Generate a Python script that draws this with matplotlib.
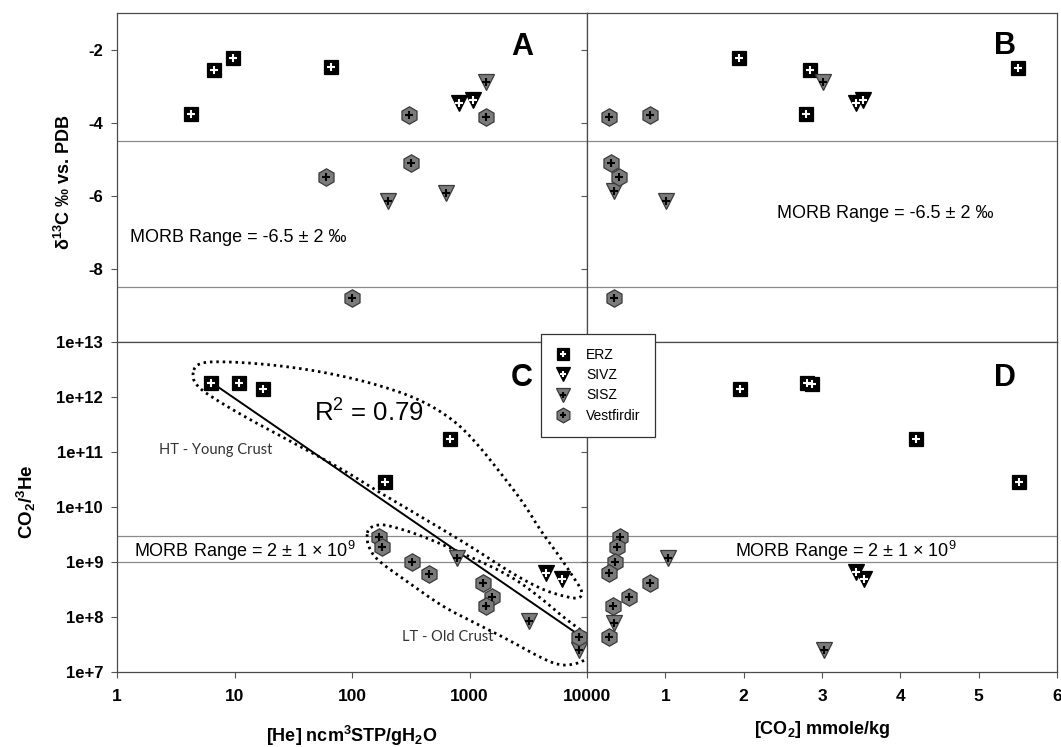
import numpy as np
import matplotlib
matplotlib.use('Agg')
import matplotlib.pyplot as plt
from matplotlib.lines import Line2D

plt.rcParams['font.family'] = ['Liberation Sans', 'DejaVu Sans']
plt.rcParams['mathtext.fontset'] = 'custom'
plt.rcParams['mathtext.rm'] = 'Liberation Sans'
plt.rcParams['mathtext.it'] = 'Liberation Sans:italic'
plt.rcParams['mathtext.bf'] = 'Liberation Sans:bold'

# ---------------- data ----------------
groups = ['ERZ', 'SIVZ', 'SISZ', 'Vestfirdir']

# Panel A: [He] vs d13C
A_he = {'ERZ': [6.2, 10.7, 17.1, 188],
        'SIVZ': [4350, 6080],
        'SISZ': [8430, 770, 3160],
        'Vestfirdir': [1280, 8430, 1350, 169, 316]}
A_d13c = {'ERZ': [-3.76, -2.55, -2.22, -2.49],
          'SIVZ': [-3.47, -3.39],
          'SISZ': [-2.89, -6.14, -5.92],
          'Vestfirdir': [-3.80, -3.85, -5.11, -5.50, -8.81]}

# Panel B: [CO2] vs d13C
B_co2 = {'ERZ': [1.94, 2.85, 2.79, 5.50],
         'SIVZ': [3.44, 3.52],
         'SISZ': [3.01, 0.34, 1.01],
         'Vestfirdir': [0.28, 0.80, 0.31, 0.41, 0.34]}
B_d13c = {'ERZ': [-2.23, -2.55, -3.76, -2.50],
          'SIVZ': [-3.47, -3.39],
          'SISZ': [-2.89, -5.88, -6.14],
          'Vestfirdir': [-3.85, -3.80, -5.11, -5.50, -8.81]}

# Panel C: [He] vs CO2/3He
C_he = {'ERZ': [6.3, 10.9, 17.6, 682, 191],
        'SIVZ': [4450, 6170],
        'SISZ': [778, 3230, 8600],
        'Vestfirdir': [171, 179, 322, 455, 1312, 1545, 1373, 8600]}
C_ratio = {'ERZ': [1.83e12, 1.76e12, 1.38e12, 1.69e11, 2.8e10],
           'SIVZ': [6.4e8, 5.0e8],
           'SISZ': [1.19e9, 8.3e7, 2.5e7],
           'Vestfirdir': [2.88e9, 1.89e9, 1.0e9, 6.0e8, 4.2e8, 2.3e8, 1.6e8, 4.3e7]}

# Panel D: [CO2] vs CO2/3He
D_co2 = {'ERZ': [1.95, 2.81, 2.87, 4.20, 5.51],
         'SIVZ': [3.44, 3.53],
         'SISZ': [1.03, 0.35, 3.02],
         'Vestfirdir': [0.42, 0.38, 0.355, 0.28, 0.81, 0.53, 0.33, 0.285]}
D_ratio = {'ERZ': [1.37e12, 1.83e12, 1.74e12, 1.69e11, 2.8e10],
           'SIVZ': [6.5e8, 5.0e8],
           'SISZ': [1.19e9, 7.8e7, 2.5e7],
           'Vestfirdir': [2.82e9, 1.86e9, 1.0e9, 6.2e8, 4.2e8, 2.3e8, 1.6e8, 4.3e7]}

# MORB ranges
morb_d13c = [-4.5, -8.5]
morb_ratio = [1e9, 3e9]

# regression (log10 ratio = intercept + slope * log10 He)
fit_slope = -1.468
fit_intercept = 13.445
fit_he_range = [7.05, 8700]

# envelopes (log10 He, log10 CO2/3He)
HT_env_loghe = [0.636, 0.678, 0.934, 1.359, 1.785, 2.210, 2.579, 2.862, 3.061, 3.288, 3.472,
                3.600, 3.770, 3.883, 3.969, 3.932, 3.770, 3.600, 3.345, 3.061, 2.636, 2.266,
                1.926, 1.500, 1.075, 0.791, 0.678]
HT_env_logratio = [12.384, 12.629, 12.647, 12.580, 12.446, 12.232, 11.958, 11.592, 11.166, 10.556,
                   10.038, 9.581, 9.093, 8.728, 8.448, 8.320, 8.393, 8.516, 8.814, 9.216, 9.764,
                   10.221, 10.678, 11.166, 11.653, 12.018, 12.201]
LT_env_loghe = [2.125, 2.139, 2.238, 2.351, 2.579, 2.919, 3.345, 3.600, 3.798, 3.973, 4.054,
                4.083, 4.026, 3.911, 3.770, 3.600, 3.345, 3.061, 2.777, 2.494, 2.210, 2.139]
LT_env_logratio = [9.459, 9.618, 9.691, 9.642, 9.490, 9.179, 8.759, 8.362, 7.996, 7.722, 7.601,
                   7.448, 7.265, 7.144, 7.113, 7.265, 7.570, 7.876, 8.179, 8.607, 9.033, 9.276]

left_he_ticks = [1, 10, 100, 1000, 10000]
left_he_labels = ['1', '10', '100', '1000', '10000']
ratio_ticks = [1e7, 1e8, 1e9, 1e10, 1e11, 1e12, 1e13]
ratio_labels = ['1e+7', '1e+8', '1e+9', '1e+10', '1e+11', '1e+12', '1e+13']
d13c_ticks = [-2, -4, -6, -8]
d13c_labels = ['-2', '-4', '-6', '-8']
co2_ticks = [1, 2, 3, 4, 5, 6]
co2_labels = ['1', '2', '3', '4', '5', '6']

# ---------------- styles ----------------
GRAY = '#7b7b7b'
EDGE = '#3a3a3a'
styles = {
    'ERZ': dict(marker='s', ms=10.3, mfc='black', mec='black', plus='white'),
    'SIVZ': dict(marker='v', ms=11.5, mfc='black', mec='black', plus='white'),
    'SISZ': dict(marker='v', ms=11.5, mfc=GRAY, mec=EDGE, plus='black'),
    'Vestfirdir': dict(marker='h', ms=12.5, mfc=GRAY, mec=EDGE, plus='black'),
}

W, H = 1061, 747
fig = plt.figure(figsize=(W / 100, H / 100), dpi=100)


def add_ax(x0, y0, x1, y1):
    return fig.add_axes([x0 / W, 1 - y1 / H, (x1 - x0) / W, (y1 - y0) / H])


axA = add_ax(117, 13, 587, 342)
axB = add_ax(587, 13, 1057, 342)
axC = add_ax(117, 342, 587, 672)
axD = add_ax(587, 342, 1057, 672)

SPINE = '#4a4a4a'
TICKC = '#555555'
for ax in (axA, axB, axC, axD):
    for s in ax.spines.values():
        s.set_color(SPINE)
        s.set_linewidth(0.9)
    ax.tick_params(which='both', direction='out', length=4, width=0.8, color=TICKC,
                   top=False, right=False)


def scatter(ax, x, y, name):
    st = styles[name]
    ax.plot(x, y, ls='none', marker=st['marker'], ms=st['ms'], mfc=st['mfc'], mec=st['mec'],
            mew=0.9, zorder=3, clip_on=False)
    ax.plot(x, y, ls='none', marker='+', ms=5.5, mew=1.5, color=st['plus'], zorder=4, clip_on=False)


# ---- Panel A
axA.set_xscale('log')
axA.set_xlim(1, 1e5)
axA.set_ylim(-10, -1)
axA.set_xticks([10, 100, 1000, 10000])
axA.xaxis.set_minor_locator(matplotlib.ticker.NullLocator())
axA.set_xticklabels([])
axA.set_yticks(d13c_ticks)
axA.set_yticklabels(d13c_labels, fontsize=12, fontweight='bold')
axA.tick_params(axis='y', pad=6)
for v in morb_d13c:
    axA.axhline(v, color='#8a8a8a', lw=0.9, zorder=1)
for g in groups:
    scatter(axA, A_he[g], A_d13c[g], g)

# ---- Panel B
axB.set_xlim(0, 6)
axB.set_ylim(-10, -1)
axB.set_xticks([1, 2, 3, 4, 5])
axB.set_xticklabels([])
axB.set_yticks(d13c_ticks)
axB.set_yticklabels([])
for v in morb_d13c:
    axB.axhline(v, color='#8a8a8a', lw=0.9, zorder=1)
for g in groups:
    scatter(axB, B_co2[g], B_d13c[g], g)

# ---- Panel C
axC.set_xscale('log')
axC.set_yscale('log')
axC.set_xlim(1, 1e4)
axC.set_ylim(1e7, 1e13)
axC.set_xticks(left_he_ticks)
axC.set_xticklabels(left_he_labels, fontsize=12.5, fontweight='bold')
axC.set_yticks(ratio_ticks)
axC.set_yticklabels(ratio_labels, fontsize=12, fontweight='bold')
axC.xaxis.set_minor_locator(matplotlib.ticker.NullLocator())
axC.yaxis.set_minor_locator(matplotlib.ticker.NullLocator())
axC.tick_params(axis='x', pad=8)
axC.tick_params(axis='y', pad=6)
for v in morb_ratio:
    axC.axhline(v, color='#8a8a8a', lw=0.9, zorder=1)

he_fit = np.logspace(np.log10(fit_he_range[0]), np.log10(fit_he_range[1]), 60)
ratio_fit = 10 ** (fit_intercept + fit_slope * np.log10(he_fit))
axC.plot(he_fit, ratio_fit, color='black', lw=1.4, zorder=2)


def chaikin(lx, ly, n=3):
    pts = np.column_stack([lx, ly]).astype(float)
    for _ in range(n):
        q = np.roll(pts, -1, axis=0)
        a = 0.75 * pts + 0.25 * q
        b = 0.25 * pts + 0.75 * q
        new = np.empty((2 * len(pts), 2))
        new[0::2] = a
        new[1::2] = b
        pts = new
    pts = np.vstack([pts, pts[:1]])
    return 10 ** pts[:, 0], 10 ** pts[:, 1]


for lx, ly in ((HT_env_loghe, HT_env_logratio), (LT_env_loghe, LT_env_logratio)):
    ex, ey = chaikin(lx, ly)
    axC.plot(ex, ey, color='black', lw=2.0, ls=(0, (0.9, 1.4)), zorder=2, clip_on=False)

for g in groups:
    scatter(axC, C_he[g], C_ratio[g], g)

# ---- Panel D
axD.set_yscale('log')
axD.set_xlim(0, 6)
axD.set_ylim(1e7, 1e13)
axD.set_xticks(co2_ticks)
axD.set_xticklabels(co2_labels, fontsize=12.5, fontweight='bold')
axD.tick_params(axis='x', pad=8)
axD.set_yticks(ratio_ticks)
axD.set_yticklabels([])
axD.yaxis.set_minor_locator(matplotlib.ticker.NullLocator())
for v in morb_ratio:
    axD.axhline(v, color='#8a8a8a', lw=0.9, zorder=1)
for g in groups:
    scatter(axD, D_co2[g], D_ratio[g], g)

# ---- panel letters
for ax, letter, (x, y) in ((axA, 'A', (0.862, 0.897)), (axB, 'B', (0.889, 0.90)),
                           (axC, 'C', (0.861, 0.891)), (axD, 'D', (0.889, 0.891))):
    ax.text(x, y, letter, transform=ax.transAxes, ha='center', va='center',
            fontsize=22, fontweight='bold', zorder=5)

# ---- annotations
axA.text(0.028, 0.304, 'MORB Range = -6.5 ± 2 ‰', transform=axA.transAxes,
         fontsize=13, ha='left', va='baseline')
axB.text(0.404, 0.377, 'MORB Range = -6.5 ± 2 ‰', transform=axB.transAxes,
         fontsize=13, ha='left', va='baseline')
axC.text(0.036, 0.3485, r'MORB Range = 2 ± 1 × 10$^{9}$', transform=axC.transAxes,
         fontsize=13, ha='left', va='baseline')
axD.text(0.315, 0.3485, r'MORB Range = 2 ± 1 × 10$^{9}$', transform=axD.transAxes,
         fontsize=13, ha='left', va='baseline')
axC.text(0.419, 0.758, r'R$^{2}$ = 0.79', transform=axC.transAxes,
         fontsize=18.5, ha='left', va='baseline')
axC.text(0.089, 0.661, 'HT - Young Crust', transform=axC.transAxes, family=['Lato', 'DejaVu Sans'],
         fontsize=10.5, color='#333333', ha='left', va='baseline')
axC.text(0.606, 0.094, 'LT - Old Crust', transform=axC.transAxes, family=['Lato', 'DejaVu Sans'],
         fontsize=10.5, color='#333333', ha='left', va='baseline')

# ---- axis titles
fig.text(64 / W, 1 - 182 / H, r'δ$^{\mathbf{13}}$C ‰ vs. PDB', rotation=90, ha='center', va='center',
         fontsize=13, fontweight='bold')
fig.text(26 / W, 1 - 502 / H, r'CO$_{\mathbf{2}}$/$^{\mathbf{3}}$He', rotation=90, ha='center',
         va='center', fontsize=13.5, fontweight='bold')
fig.text(352 / W, 1 - 736 / H, r'[He] ncm$^{\mathbf{3}}$STP/gH$_{\mathbf{2}}$O', ha='center',
         va='center', fontsize=13, fontweight='bold')
fig.text(822 / W, 1 - 729 / H, r'[CO$_{\mathbf{2}}$] mmole/kg', ha='center', va='center',
         fontsize=13, fontweight='bold')

# ---- legend
handles = []
for g in groups:
    st = styles[g]
    h1 = Line2D([], [], ls='none', marker=st['marker'], ms=st['ms'] * 0.85, mfc=st['mfc'],
                mec=st['mec'], mew=0.9)
    h2 = Line2D([], [], ls='none', marker='+', ms=5, mew=1.5, color=st['plus'])
    handles.append((h1, h2))
leg = fig.legend(handles, groups, loc='upper left', bbox_to_anchor=(541 / W, 1 - 334 / H),
                 frameon=True, fancybox=False, edgecolor='#333333', framealpha=1, fontsize=10,
                 borderpad=1.0, handlelength=1.15, handletextpad=1.1, labelspacing=0.45,
                 borderaxespad=0)
leg.get_frame().set_linewidth(0.9)
leg.set_zorder(10)

fig.savefig('out.png', dpi=100)
